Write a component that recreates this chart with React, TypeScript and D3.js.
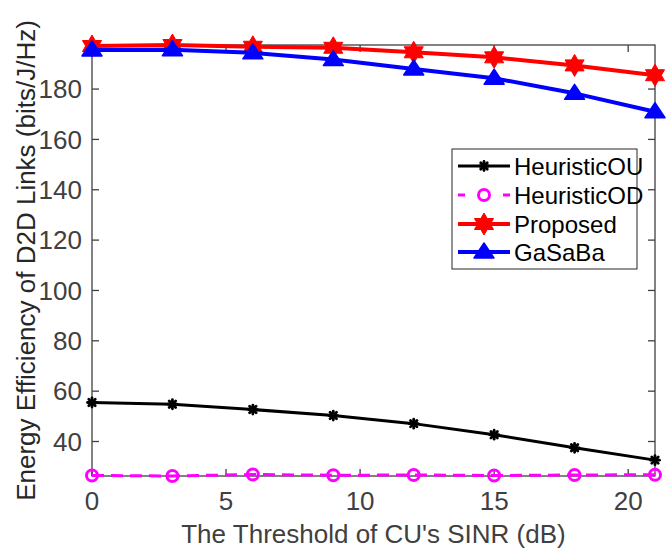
import React from "react";
import * as d3 from "d3";

const thresholds = [0, 3, 6, 9, 12, 15, 18, 21];
const heuristicOU = [55.5, 54.8, 52.7, 50.3, 47.1, 42.7, 37.5, 32.6];
const heuristicOD = [26.5, 26.3, 26.9, 26.6, 26.7, 26.5, 26.7, 26.8];
const proposed = [197.1, 197.5, 196.8, 196.4, 194.6, 192.6, 189.4, 185.5];
const gaSaBa = [195.5, 195.6, 194.4, 191.7, 188.0, 184.3, 178.3, 171.0];
const xTicks = [0, 5, 10, 15, 20];
const yTicks = [40, 60, 80, 100, 120, 140, 160, 180];
const xLimits = [0, 21];
const yLimits = [26.3, 197.5];
const seriesNames = ["HeuristicOU", "HeuristicOD", "Proposed", "GaSaBa"];

const W = 672;
const H = 555;
const L = 92, R = 655, T = 45, B = 476;
const AX = "#404040";

function hexagram(r: number) {
  const pts: string[] = [];
  const inner = r / Math.sqrt(3);
  for (let i = 0; i < 12; i++) {
    const a = (Math.PI / 6) * i - Math.PI / 2;
    const rr = i % 2 === 0 ? r : inner;
    pts.push(`${(rr * Math.cos(a)).toFixed(2)},${(rr * Math.sin(a)).toFixed(2)}`);
  }
  return "M" + pts.join("L") + "Z";
}

function Marker({ kind, x, y }: { kind: string; x: number; y: number }) {
  if (kind === "ou") {
    const a = 4.5;
    return (
      <g transform={`translate(${x},${y})`} stroke="#000" strokeWidth={2.8} strokeLinecap="round">
        <line x1={-a} y1={0} x2={a} y2={0} />
        <line x1={0} y1={-a} x2={0} y2={a} />
        <line x1={-a * 0.72} y1={-a * 0.72} x2={a * 0.72} y2={a * 0.72} />
        <line x1={-a * 0.72} y1={a * 0.72} x2={a * 0.72} y2={-a * 0.72} />
      </g>
    );
  }
  if (kind === "od") {
    return <circle cx={x} cy={y} r={5.5} fill="none" stroke="#ff00ff" strokeWidth={3} />;
  }
  if (kind === "pr") {
    return <path d={hexagram(11)} transform={`translate(${x},${y})`} fill="#ff0000" stroke="#ff0000" strokeWidth={1} />;
  }
  return (
    <path d="M0,-9L10,6L-10,6Z" transform={`translate(${x},${y})`} fill="#0000ff" stroke="#0000ff" strokeWidth={1.5} strokeLinejoin="round" />
  );
}

export default function App() {
  const x = d3.scaleLinear().domain(xLimits).range([L, R]);
  const y = d3.scaleLinear().domain(yLimits).range([B, T]);
  const line = d3.line<number>().x((_, i) => x(thresholds[i])).y((d) => y(d));

  const series = [
    { name: seriesNames[0], data: heuristicOU, color: "#000000", width: 3, dash: undefined as string | undefined, kind: "ou" },
    { name: seriesNames[1], data: heuristicOD, color: "#ff00ff", width: 3, dash: "12,7", kind: "od" },
    { name: seriesNames[2], data: proposed, color: "#ff0000", width: 4, dash: undefined, kind: "pr" },
    { name: seriesNames[3], data: gaSaBa, color: "#0000ff", width: 4, dash: undefined, kind: "ga" },
  ];

  const tickLen = 7;
  const font = "Liberation Sans, Arial, Helvetica, sans-serif";

  const legX = 452, legY = 149, legW = 185, legH = 120;
  const rowY = [166, 195, 224, 252];

  return (
    <div style={{ position: "absolute", left: 0, top: 0 }}>
      <svg width={W} height={H} style={{ display: "block", background: "#fff" }} fontFamily={font}>
        <rect x={0} y={0} width={W} height={H} fill="#fff" />
        <rect x={L} y={T} width={R - L} height={B - T} fill="none" stroke={AX} strokeWidth={1.3} />
        {xTicks.map((t) => (
          <g key={"xt" + t}>
            <line x1={x(t)} x2={x(t)} y1={B} y2={B - tickLen} stroke={AX} strokeWidth={1.3} />
            <line x1={x(t)} x2={x(t)} y1={T} y2={T + tickLen} stroke={AX} strokeWidth={1.3} />
            <text x={x(t)} y={510} textAnchor="middle" fontSize={26} fill="#404040">{t}</text>
          </g>
        ))}
        {yTicks.map((t) => (
          <g key={"yt" + t}>
            <line x1={L} x2={L + tickLen} y1={y(t)} y2={y(t)} stroke={AX} strokeWidth={1.3} />
            <line x1={R} x2={R - tickLen} y1={y(t)} y2={y(t)} stroke={AX} strokeWidth={1.3} />
            <text x={82} y={y(t)} dy="0.35em" textAnchor="end" fontSize={26} fill="#404040">{t}</text>
          </g>
        ))}
        <text x={(L + R) / 2} y={543} textAnchor="middle" fontSize={26} fill="#404040">The Threshold of CU's SINR (dB)</text>
        <text transform={`translate(35,${(T + B) / 2}) rotate(-90)`} textAnchor="middle" fontSize={26} fill="#262626">
          Energy Efficiency of D2D Links (bits/J/Hz)
        </text>
        {series.map((s) => (
          <g key={s.name}>
            <path d={line(s.data) || ""} fill="none" stroke={s.color} strokeWidth={s.width} strokeDasharray={s.dash} strokeLinejoin="round" />
            {s.data.map((v, i) => (
              <Marker key={i} kind={s.kind} x={x(thresholds[i])} y={y(v)} />
            ))}
          </g>
        ))}
        <rect x={legX} y={legY} width={legW} height={legH} fill="#fff" stroke="#262626" strokeWidth={1} />
        {series.map((s, i) => (
          <g key={"lg" + s.name}>
            <line x1={458} x2={510} y1={rowY[i]} y2={rowY[i]} stroke={s.color} strokeWidth={s.width}
              strokeDasharray={s.kind === "od" ? "7,38" : undefined} />
            <Marker kind={s.kind} x={484} y={rowY[i]} />
            <text x={514} y={rowY[i]} dy="0.36em" fontSize={24} fill="#000">{s.name}</text>
          </g>
        ))}
      </svg>
    </div>
  );
}
